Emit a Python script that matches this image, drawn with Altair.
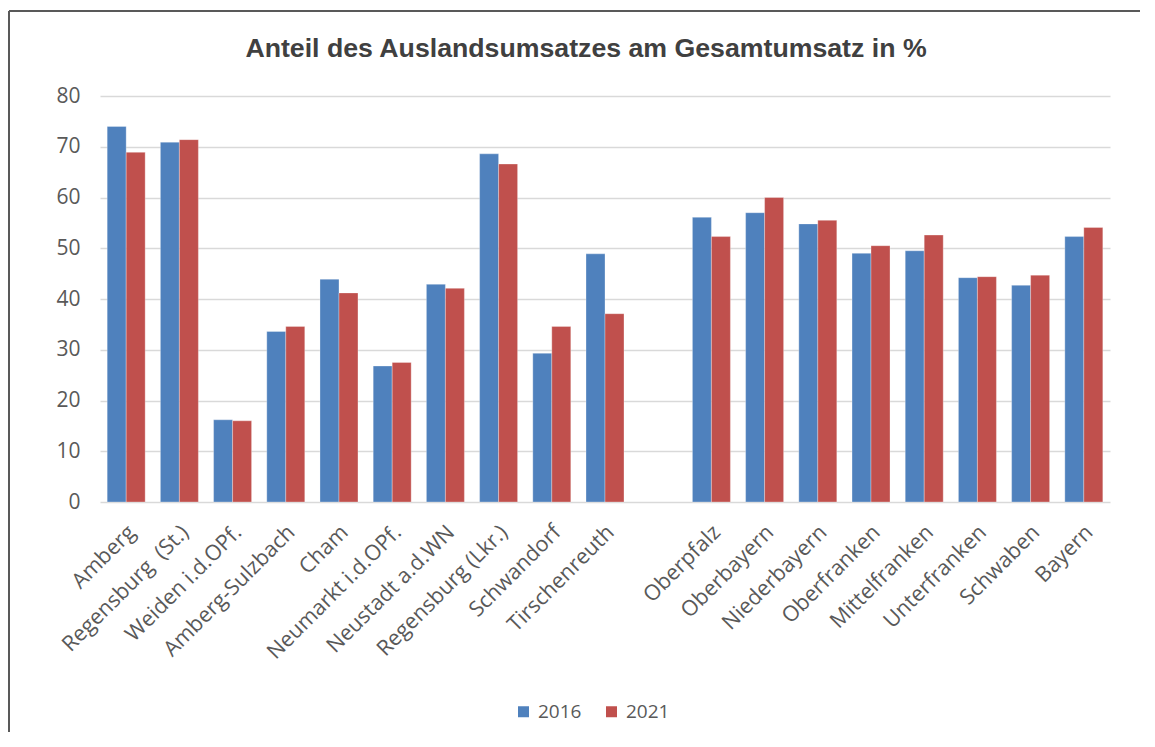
import altair as alt
import pandas as pd

regions = ["Amberg", "Regensburg \u00a0(St.)", "Weiden i.d.OPf.", "Amberg-Sulzbach", "Cham",
           "Neumarkt i.d.OPf.", "Neustadt a.d.WN", "Regensburg (Lkr.)", "Schwandorf",
           "Tirschenreuth", " ", "Oberpfalz", "Oberbayern", "Niederbayern", "Oberfranken",
           "Mittelfranken", "Unterfranken", "Schwaben", "Bayern"]
values_2016 = [74.0, 70.9, 16.2, 33.6, 43.9, 26.8, 42.9, 68.6, 29.3, 48.9, None,
               56.1, 57.0, 54.8, 49.0, 49.5, 44.2, 42.7, 52.3]
values_2021 = [68.9, 71.4, 16.0, 34.6, 41.2, 27.5, 42.1, 66.6, 34.6, 37.1, None,
               52.3, 60.0, 55.5, 50.5, 52.6, 44.4, 44.7, 54.1]
years = ["2016", "2021"]
colors = ["#4f81bd", "#c0504d"]
title_text = "Anteil des Auslandsumsatzes am Gesamtumsatz in %"

rows = []
for r, a, b in zip(regions, values_2016, values_2021):
    if a is not None:
        rows.append({"Region": r, "Jahr": years[0], "Wert": a})
        rows.append({"Region": r, "Jahr": years[1], "Wert": b})
df = pd.DataFrame(rows)

W, H = 1010, 406
label_font = "Open Sans"
grey = "#595959"

bars = alt.Chart(df).mark_bar(stroke="white", strokeWidth=0.5, strokeOpacity=0.6).encode(
    x=alt.X("Region:N", sort=regions,
            scale=alt.Scale(domain=regions, paddingInner=0.286, paddingOuter=0.135),
            axis=alt.Axis(title=None, labelAngle=-45, labelAlign="right", labelBaseline="middle",
                          labelFont=label_font, labelFontSize=21.5, labelColor=grey,
                          ticks=False, tickSize=0, domain=False, labelPadding=27,
                          labelOffset=6, labelOverlap=False, labelLimit=300)),
    xOffset=alt.XOffset("Jahr:N", sort=years, scale=alt.Scale(paddingInner=0)),
    y=alt.Y("Wert:Q", scale=alt.Scale(domain=[0, 80], nice=False),
            axis=alt.Axis(title=None, values=list(range(0, 81, 10)), labelFont=label_font,
                          labelFontSize=21, labelColor=grey, ticks=False, tickSize=0,
                          domain=False, labelPadding=20, gridColor="#d9d9d9", gridWidth=1.5)),
    color=alt.Color("Jahr:N", sort=years, scale=alt.Scale(domain=years, range=colors),
                    legend=alt.Legend(title=None, orient="none", legendX=414, legendY=606,
                                      direction="horizontal", symbolType="square",
                                      symbolSize=121, symbolStrokeWidth=0, labelFont=label_font,
                                      labelFontSize=19, labelColor=grey, columnPadding=20,
                                      padding=0, labelOffset=5)),
)

frame_df = pd.DataFrame({"k": [0]})
top_line = alt.Chart(frame_df).mark_rule(color=grey, strokeWidth=2).encode(
    x=alt.value(-91), x2=alt.value(W + 50), y=alt.value(-85))
left_line = alt.Chart(frame_df).mark_rule(color=grey, strokeWidth=2).encode(
    x=alt.value(-91), y=alt.value(-85), y2=alt.value(H + 240))
title = alt.Chart(frame_df).mark_text(
    font="Liberation Sans", fontSize=26.7, fontWeight="bold", color="#404040",
    align="center", baseline="alphabetic").encode(
    x=alt.value(486), y=alt.value(-39), text=alt.value(title_text))

chart = alt.layer(bars, top_line, left_line, title).properties(
    width=W, height=H,
    background="white",
    autosize=alt.AutoSizeParams(type="none"),
    padding={"left": 92, "top": 88, "right": 30, "bottom": 230},
).configure_view(strokeWidth=0)

chart.save("out.html", embed_options={"renderer": "svg", "actions": False})
